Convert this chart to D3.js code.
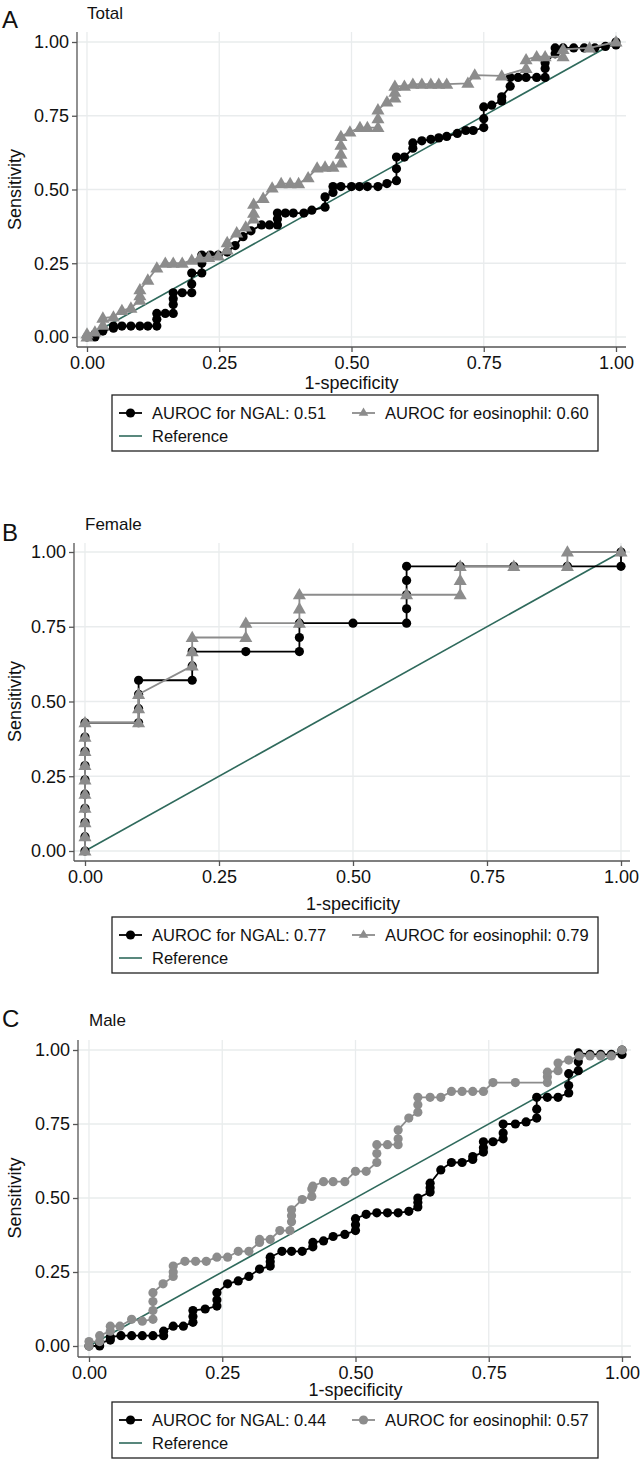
<!DOCTYPE html>
<html><head><meta charset="utf-8">
<script src="https://cdn.jsdelivr.net/npm/d3@7"></script>
<style>body{margin:0;background:#fff}svg{display:block}text{font-family:"Liberation Sans",Arial,Helvetica,sans-serif}</style>
</head><body>
<script>
const tickValues = [0, 0.25, 0.5, 0.75, 1];
const tickLabels = ["0.00", "0.25", "0.50", "0.75", "1.00"];
const panelLetters = ["A", "B", "C"];
const panelTitles = ["Total", "Female", "Male"];
const legendNGAL = ["AUROC for NGAL: 0.51", "AUROC for NGAL: 0.77", "AUROC for NGAL: 0.44"];
const legendEos = ["AUROC for eosinophil: 0.60", "AUROC for eosinophil: 0.79", "AUROC for eosinophil: 0.57"];
const eosMarker = ["triangle", "triangle", "circle"];

// [1-specificity, sensitivity]
const totalNGAL = [[0,0],[0.015,0],[0.015,0.01],[0.03,0.02],[0.05,0.03],[0.05,0.037],[0.066,0.037],[0.083,0.037],[0.1,0.037],[0.115,0.037],[0.132,0.037],[0.132,0.06],[0.132,0.08],[0.148,0.08],[0.163,0.08],[0.163,0.11],[0.163,0.13],[0.163,0.15],[0.18,0.15],[0.198,0.15],[0.198,0.18],[0.198,0.217],[0.217,0.217],[0.217,0.25],[0.217,0.278],[0.233,0.278],[0.248,0.278],[0.265,0.288],[0.28,0.31],[0.295,0.34],[0.31,0.36],[0.33,0.38],[0.345,0.38],[0.36,0.38],[0.36,0.4],[0.36,0.42],[0.375,0.42],[0.39,0.42],[0.41,0.42],[0.425,0.43],[0.45,0.44],[0.45,0.475],[0.465,0.49],[0.465,0.51],[0.48,0.51],[0.5,0.51],[0.515,0.51],[0.53,0.51],[0.55,0.51],[0.567,0.52],[0.585,0.53],[0.585,0.57],[0.585,0.61],[0.6,0.61],[0.616,0.64],[0.616,0.658],[0.633,0.665],[0.65,0.67],[0.665,0.675],[0.68,0.68],[0.7,0.69],[0.716,0.7],[0.73,0.7],[0.75,0.71],[0.75,0.74],[0.75,0.78],[0.765,0.786],[0.784,0.8],[0.784,0.814],[0.8,0.85],[0.8,0.88],[0.815,0.88],[0.83,0.88],[0.85,0.88],[0.866,0.88],[0.866,0.91],[0.866,0.93],[0.885,0.96],[0.885,0.98],[0.9,0.98],[0.92,0.98],[0.94,0.98],[0.96,0.98],[0.98,0.985],[1,0.99],[1,1]];
const totalEos = [[0,0],[0,0.01],[0.015,0.017],[0.03,0.04],[0.03,0.064],[0.05,0.068],[0.066,0.09],[0.083,0.098],[0.1,0.125],[0.1,0.14],[0.1,0.16],[0.115,0.193],[0.132,0.234],[0.148,0.25],[0.163,0.25],[0.18,0.25],[0.198,0.26],[0.213,0.268],[0.23,0.27],[0.248,0.275],[0.265,0.295],[0.265,0.32],[0.283,0.353],[0.3,0.373],[0.315,0.4],[0.315,0.42],[0.315,0.45],[0.333,0.47],[0.35,0.505],[0.367,0.52],[0.384,0.52],[0.4,0.52],[0.418,0.54],[0.435,0.573],[0.45,0.576],[0.465,0.576],[0.48,0.59],[0.48,0.62],[0.48,0.65],[0.48,0.68],[0.497,0.695],[0.516,0.71],[0.53,0.71],[0.55,0.71],[0.55,0.74],[0.55,0.77],[0.567,0.797],[0.582,0.81],[0.582,0.83],[0.582,0.85],[0.6,0.85],[0.616,0.857],[0.633,0.857],[0.65,0.857],[0.665,0.857],[0.68,0.857],[0.72,0.86],[0.733,0.888],[0.784,0.885],[0.83,0.91],[0.83,0.94],[0.85,0.95],[0.866,0.95],[0.9,0.95],[0.9,0.975],[0.95,0.98],[1,1]];
const femaleNGAL = [[0,0],[0,0.048],[0,0.095],[0,0.143],[0,0.19],[0,0.238],[0,0.286],[0,0.333],[0,0.381],[0,0.429],[0.1,0.429],[0.1,0.476],[0.1,0.524],[0.1,0.571],[0.2,0.571],[0.2,0.619],[0.2,0.667],[0.3,0.667],[0.4,0.667],[0.4,0.714],[0.4,0.762],[0.5,0.762],[0.6,0.762],[0.6,0.81],[0.6,0.857],[0.6,0.905],[0.6,0.952],[0.7,0.952],[0.8,0.952],[0.9,0.952],[1,0.952],[1,1]];
const femaleEos = [[0,0],[0,0.048],[0,0.095],[0,0.143],[0,0.19],[0,0.238],[0,0.286],[0,0.333],[0,0.381],[0,0.429],[0.1,0.429],[0.1,0.476],[0.1,0.524],[0.2,0.619],[0.2,0.667],[0.2,0.714],[0.3,0.714],[0.3,0.762],[0.4,0.762],[0.4,0.81],[0.4,0.857],[0.6,0.857],[0.7,0.857],[0.7,0.905],[0.7,0.952],[0.8,0.952],[0.9,0.952],[0.9,1],[1,1]];
const maleNGAL = [[0,0],[0.02,0],[0.02,0.01],[0.04,0.02],[0.04,0.03],[0.06,0.035],[0.08,0.035],[0.1,0.035],[0.12,0.035],[0.14,0.035],[0.14,0.05],[0.158,0.067],[0.177,0.067],[0.195,0.08],[0.195,0.1],[0.195,0.12],[0.218,0.125],[0.24,0.135],[0.24,0.155],[0.24,0.18],[0.26,0.21],[0.28,0.22],[0.3,0.235],[0.32,0.26],[0.34,0.27],[0.34,0.285],[0.34,0.3],[0.362,0.32],[0.38,0.32],[0.4,0.32],[0.42,0.335],[0.42,0.35],[0.44,0.355],[0.458,0.37],[0.48,0.377],[0.5,0.39],[0.5,0.41],[0.5,0.43],[0.52,0.445],[0.54,0.45],[0.56,0.45],[0.58,0.45],[0.6,0.455],[0.617,0.47],[0.617,0.485],[0.617,0.5],[0.64,0.52],[0.64,0.535],[0.64,0.55],[0.66,0.595],[0.68,0.62],[0.7,0.62],[0.72,0.63],[0.72,0.64],[0.74,0.655],[0.74,0.67],[0.74,0.69],[0.758,0.69],[0.777,0.7],[0.777,0.72],[0.777,0.75],[0.8,0.75],[0.82,0.757],[0.84,0.77],[0.84,0.8],[0.84,0.84],[0.86,0.84],[0.88,0.84],[0.9,0.855],[0.9,0.88],[0.9,0.92],[0.918,0.93],[0.918,0.96],[0.918,0.99],[0.94,0.985],[0.96,0.985],[0.98,0.985],[1,0.985],[1,1]];
const maleEos = [[0,0],[0,0.015],[0.02,0.015],[0.02,0.035],[0.04,0.05],[0.04,0.067],[0.058,0.067],[0.08,0.09],[0.1,0.084],[0.12,0.09],[0.12,0.12],[0.12,0.15],[0.12,0.18],[0.139,0.21],[0.158,0.235],[0.158,0.25],[0.158,0.27],[0.18,0.286],[0.2,0.286],[0.22,0.286],[0.24,0.3],[0.26,0.3],[0.28,0.32],[0.3,0.32],[0.32,0.35],[0.32,0.36],[0.34,0.36],[0.358,0.39],[0.377,0.39],[0.38,0.42],[0.38,0.44],[0.38,0.46],[0.4,0.495],[0.418,0.505],[0.418,0.53],[0.42,0.54],[0.44,0.555],[0.458,0.555],[0.48,0.555],[0.5,0.59],[0.52,0.59],[0.54,0.62],[0.54,0.65],[0.54,0.68],[0.56,0.68],[0.58,0.68],[0.58,0.7],[0.58,0.73],[0.6,0.77],[0.617,0.79],[0.617,0.815],[0.617,0.84],[0.64,0.84],[0.66,0.84],[0.68,0.86],[0.7,0.86],[0.72,0.86],[0.74,0.86],[0.758,0.89],[0.8,0.89],[0.86,0.89],[0.86,0.91],[0.86,0.925],[0.88,0.93],[0.88,0.956],[0.9,0.966],[0.92,0.98],[0.94,0.98],[0.96,0.98],[0.98,0.98],[1,1]];

const ngalSeries = [totalNGAL, femaleNGAL, maleNGAL];
const eosSeries = [totalEos, femaleEos, maleEos];

const W = 642, H = 1473;
const svg = d3.select("body").append("svg").attr("width", W).attr("height", H);

const layout = [
  {x0:87, x1:616, y0:337, y1:42, axX:77, axY:347, top:32, right:626, titleY:19, letterY:28, xlabY:389, legTop:395},
  {x0:85, x1:621, y0:851, y1:552, axX:74, axY:861, top:543, right:630, titleY:530, letterY:541, xlabY:910, legTop:917},
  {x0:89, x1:622, y0:1346, y1:1050, axX:78, axY:1357, top:1040, right:631, titleY:1026, letterY:1027, xlabY:1396, legTop:1402}
];

const COL_NGAL = "#000000", COL_EOS = "#8c8c8c", COL_REF = "#2f6a5c", COL_GRID = "#e9eced", COL_AX = "#555";

function marker(g, type, x, y, color) {
  if (type === "circle") {
    g.append("circle").attr("cx", x).attr("cy", y).attr("r", 4.6).attr("fill", color);
  } else {
    g.append("path").attr("d", d3.symbol(d3.symbolTriangle, 74)()).attr("transform", `translate(${x},${y + 0.8})`).attr("fill", color);
  }
}

layout.forEach((L, i) => {
  const g = svg.append("g");
  const x = d3.scaleLinear().domain([0, 1]).range([L.x0, L.x1]);
  const y = d3.scaleLinear().domain([0, 1]).range([L.y0, L.y1]);

  // grid
  g.selectAll(".vg").data(tickValues).join("line")
    .attr("x1", d => x(d)).attr("x2", d => x(d)).attr("y1", L.top).attr("y2", L.axY)
    .attr("stroke", COL_GRID).attr("stroke-width", 1.3);
  g.selectAll(".hg").data(tickValues).join("line")
    .attr("x1", L.axX).attr("x2", L.right).attr("y1", d => y(d)).attr("y2", d => y(d))
    .attr("stroke", COL_GRID).attr("stroke-width", 1.3);

  // axes
  const yAxis = d3.axisLeft(y).tickValues(tickValues).tickFormat((d, k) => tickLabels[k]).tickSize(5).tickPadding(3);
  const ya = g.append("g").attr("transform", `translate(${L.axX},0)`).call(yAxis);
  ya.select(".domain").attr("d", `M0,${L.top}V${L.axY}`).attr("stroke", COL_AX).attr("stroke-width", 1.3);
  ya.selectAll(".tick line").attr("stroke", COL_AX).attr("stroke-width", 1.3);
  ya.selectAll(".tick text").attr("font-size", 18).attr("fill", "#111").attr("font-family", "Liberation Sans, Arial, sans-serif");

  const xAxis = d3.axisBottom(x).tickValues(tickValues).tickFormat((d, k) => tickLabels[k]).tickSize(5).tickPadding(4);
  const xa = g.append("g").attr("transform", `translate(0,${L.axY})`).call(xAxis);
  xa.select(".domain").attr("d", `M${L.axX},0H${L.right}`).attr("stroke", COL_AX).attr("stroke-width", 1.3);
  xa.selectAll(".tick line").attr("stroke", COL_AX).attr("stroke-width", 1.3);
  xa.selectAll(".tick text").attr("font-size", 18).attr("fill", "#111").attr("font-family", "Liberation Sans, Arial, sans-serif");

  // titles
  g.append("text").attr("x", 2).attr("y", L.letterY).attr("font-size", 24).attr("fill", "#111").text(panelLetters[i]);
  g.append("text").attr("x", L.x0).attr("y", L.titleY).attr("font-size", 17).attr("fill", "#111").text(panelTitles[i]);
  g.append("text").attr("x", (L.x0 + L.x1) / 2).attr("y", L.xlabY).attr("text-anchor", "middle").attr("font-size", 18).attr("fill", "#111").text("1-specificity");
  g.append("text").attr("transform", `translate(21,${(L.y0 + L.y1) / 2}) rotate(-90)`).attr("text-anchor", "middle").attr("font-size", 18).attr("fill", "#111").text("Sensitivity");

  // reference line
  g.append("line").attr("x1", x(0)).attr("y1", y(0)).attr("x2", x(1)).attr("y2", y(1))
    .attr("stroke", COL_REF).attr("stroke-width", 1.6);

  const line = d3.line().x(d => x(d[0])).y(d => y(d[1]));
  // NGAL
  g.append("path").datum(ngalSeries[i]).attr("d", line).attr("fill", "none").attr("stroke", COL_NGAL).attr("stroke-width", 1.8);
  ngalSeries[i].forEach(d => marker(g, "circle", x(d[0]), y(d[1]), COL_NGAL));
  // Eosinophil
  g.append("path").datum(eosSeries[i]).attr("d", line).attr("fill", "none").attr("stroke", COL_EOS).attr("stroke-width", 1.8);
  eosSeries[i].forEach(d => marker(g, eosMarker[i], x(d[0]), y(d[1]), COL_EOS));

  // legend
  const lx = 112, lw = 486, lh = 56, lt = L.legTop;
  g.append("rect").attr("x", lx).attr("y", lt).attr("width", lw).attr("height", lh)
    .attr("fill", "#fff").attr("stroke", "#222").attr("stroke-width", 1.3);
  const r1 = lt + 18, r2 = lt + 41;
  g.append("line").attr("x1", 119).attr("x2", 142).attr("y1", r1).attr("y2", r1).attr("stroke", COL_NGAL).attr("stroke-width", 1.8);
  marker(g, "circle", 130.5, r1, COL_NGAL);
  g.append("text").attr("x", 152).attr("y", r1 + 6).attr("font-size", 16.5).attr("fill", "#111").text(legendNGAL[i]);
  g.append("line").attr("x1", 352).attr("x2", 375).attr("y1", r1).attr("y2", r1).attr("stroke", COL_EOS).attr("stroke-width", 1.8);
  if (eosMarker[i] === "circle") marker(g, "circle", 363.5, r1, COL_EOS);
  else g.append("path").attr("d", d3.symbol(d3.symbolTriangle, 40)()).attr("transform", `translate(363.5,${r1})`).attr("fill", COL_EOS);
  g.append("text").attr("x", 385).attr("y", r1 + 6).attr("font-size", 16.5).attr("fill", "#111").text(legendEos[i]);
  g.append("line").attr("x1", 119).attr("x2", 142).attr("y1", r2).attr("y2", r2).attr("stroke", COL_REF).attr("stroke-width", 1.6);
  g.append("text").attr("x", 152).attr("y", r2 + 6).attr("font-size", 16.5).attr("fill", "#111").text("Reference");
});
</script>
</body></html>
